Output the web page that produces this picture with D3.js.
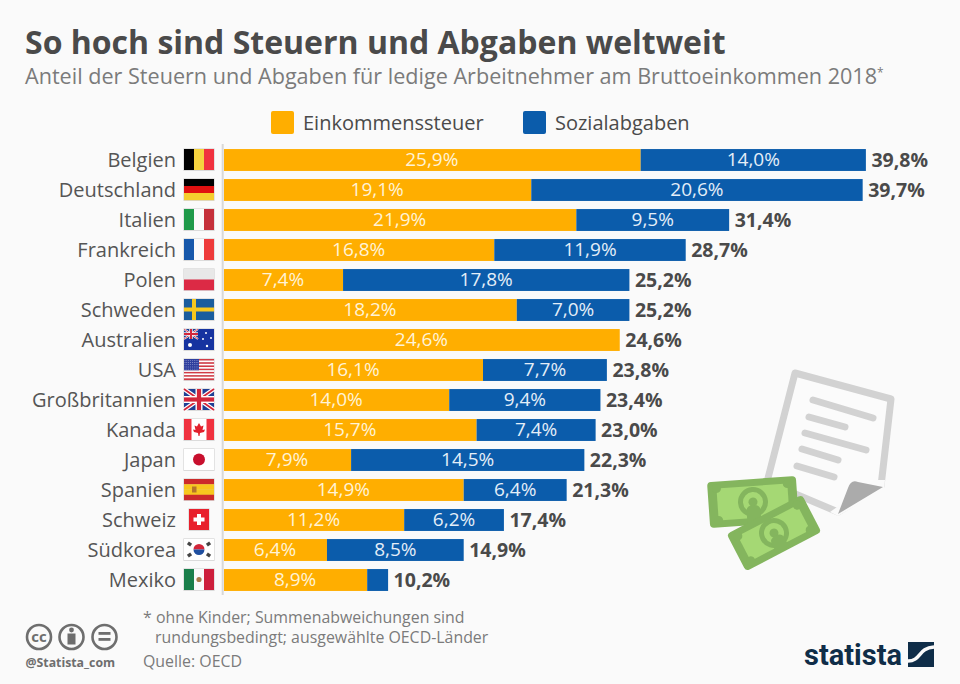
<!DOCTYPE html>
<html>
<head>
<meta charset="utf-8">
<script src="https://cdn.jsdelivr.net/npm/d3@7"></script>
<style>
html, body { margin: 0; padding: 0; background: #fafafa; }
svg { display: block; font-family: "Open Sans", sans-serif; }
</style>
</head>
<body>
<div id="chart"></div>
<script>
const countries = ["Belgien", "Deutschland", "Italien", "Frankreich", "Polen", "Schweden", "Australien", "USA", "Großbritannien", "Kanada", "Japan", "Spanien", "Schweiz", "Südkorea", "Mexiko"];
const incomeTax = [25.9, 19.1, 21.9, 16.8, 7.4, 18.2, 24.6, 16.1, 14.0, 15.7, 7.9, 14.9, 11.2, 6.4, 8.9];
const socialTax = [14.0, 20.6, 9.5, 11.9, 17.8, 7.0, 0, 7.7, 9.4, 7.4, 14.5, 6.4, 6.2, 8.5, 1.3];
const totals = [39.8, 39.7, 31.4, 28.7, 25.2, 25.2, 24.6, 23.8, 23.4, 23.0, 22.3, 21.3, 17.4, 14.9, 10.2];
const seriesNames = ["Einkommenssteuer", "Sozialabgaben"];

const text_color = "#4a4a4a";
const grey_color = "#7b7b7b";
const yellow = "#ffae00";
const blue = "#0b5cab";
const WIDTH = 960, HEIGHT = 684;

const fmt = v => v.toFixed(1).replace(".", ",") + "%";

const svg = d3.select("#chart").append("svg")
    .attr("width", WIDTH)
    .attr("height", HEIGHT);

svg.append("rect").attr("width", WIDTH).attr("height", HEIGHT).attr("fill", "#fafafa");

// header
svg.append("text").text("So hoch sind Steuern und Abgaben weltweit")
    .attr("x", 25).attr("y", 54)
    .attr("font-size", 32).attr("font-weight", 700).attr("fill", text_color);

const sub = svg.append("text")
    .attr("x", 25).attr("y", 84)
    .attr("font-size", 21.6).attr("fill", grey_color);
sub.append("tspan").text("Anteil der Steuern und Abgaben für ledige Arbeitnehmer am Bruttoeinkommen 2018");
sub.append("tspan").text("*").attr("font-size", 12).attr("dy", -7);

// legend
const legendX = [271, 523];
seriesNames.forEach((name, i) => {
    svg.append("rect").attr("x", legendX[i]).attr("y", 111).attr("width", 23).attr("height", 23)
        .attr("rx", 2).attr("fill", i === 0 ? yellow : blue);
    svg.append("text").text(name).attr("x", legendX[i] + 32).attr("y", 130)
        .attr("font-size", 20).attr("fill", text_color);
});

// scales
const x = d3.scaleLinear().domain([0, 40]).range([224, 867.5]);
const y = d3.scaleBand().domain(countries).range([145, 595]).paddingInner(0.27).paddingOuter(0.135);

svg.append("line").attr("x1", 222.7).attr("x2", 222.7).attr("y1", 144).attr("y2", 595)
    .attr("stroke", "#d8d8d8").attr("stroke-width", 2);

const rows = svg.selectAll("g.row").data(countries).join("g").attr("class", "row");

rows.append("rect")
    .attr("x", x(0))
    .attr("y", d => y(d))
    .attr("width", (d, i) => x(incomeTax[i]) - x(0))
    .attr("height", y.bandwidth())
    .attr("fill", yellow);

rows.append("rect")
    .attr("x", (d, i) => x(incomeTax[i]))
    .attr("y", d => y(d))
    .attr("width", (d, i) => x(incomeTax[i] + socialTax[i]) - x(incomeTax[i]))
    .attr("height", y.bandwidth())
    .attr("fill", blue);

const midY = d => y(d) + y.bandwidth() / 2;

rows.append("text")
    .text((d, i) => fmt(incomeTax[i]))
    .attr("x", (d, i) => (x(0) + x(incomeTax[i])) / 2 - 0.5)
    .attr("y", midY).attr("dy", "0.34em")
    .attr("text-anchor", "middle").attr("font-size", 19).attr("fill", "#fff3d6");

// Mexiko's social share is too narrow for a label
rows.filter((d, i) => socialTax[i] > 2).append("text")
    .text(d => fmt(socialTax[countries.indexOf(d)]))
    .attr("x", d => { const i = countries.indexOf(d); return (x(incomeTax[i]) + x(incomeTax[i] + socialTax[i])) / 2; })
    .attr("y", midY).attr("dy", "0.34em")
    .attr("text-anchor", "middle").attr("font-size", 19).attr("fill", "#e4eef8");

rows.append("text")
    .text((d, i) => fmt(totals[i]))
    .attr("x", (d, i) => x(incomeTax[i] + socialTax[i]) + 5.5)
    .attr("y", midY).attr("dy", "0.34em")
    .attr("font-size", 19.5).attr("font-weight", 700).attr("fill", text_color);

rows.append("text")
    .text(d => d)
    .attr("x", 176)
    .attr("y", midY).attr("dy", "0.33em")
    .attr("text-anchor", "end").attr("font-size", 20).attr("fill", "#555");

// flags, drawn in a 30x21 box
function r(g, x0, y0, w, h, c) { g.append("rect").attr("x", x0).attr("y", y0).attr("width", w).attr("height", h).attr("fill", c); }
function vbands(g, cs) { cs.forEach((c, i) => r(g, i * 10, 0, 10, 21, c)); }
function hbands(g, cs) { const h = 21 / cs.length; cs.forEach((c, i) => r(g, 0, i * h, 30, h + 0.2, c)); }
function unionJack(g, w, h) {
    r(g, 0, 0, w, h, "#1f3f94");
    const p = `M0,0L${w},${h}M${w},0L0,${h}`;
    g.append("path").attr("d", p).attr("stroke", "#fff").attr("stroke-width", h / 5);
    g.append("path").attr("d", p).attr("stroke", "#d3263a").attr("stroke-width", h / 12);
    r(g, w / 2 - h / 6, 0, h / 3, h, "#fff"); r(g, 0, h / 3, w, h / 3, "#fff");
    r(g, w / 2 - h / 10, 0, h / 5, h, "#d3263a"); r(g, 0, h * 0.4, w, h / 5, "#d3263a");
}
const flags = {
    Belgien: g => vbands(g, ["#000", "#f5d33f", "#f0323f"]),
    Deutschland: g => hbands(g, ["#000", "#e01010", "#f5cd2e"]),
    Italien: g => vbands(g, ["#1f9a4a", "#fafafa", "#c5303a"]),
    Frankreich: g => vbands(g, ["#1758ab", "#fafafa", "#ee3b3b"]),
    Polen: g => hbands(g, ["#e8e8e8", "#dc2a45"]),
    Schweden: g => { r(g, 0, 0, 30, 21, "#1a5d9e"); r(g, 8, 0, 4, 21, "#f7c81e"); r(g, 0, 8.5, 30, 4, "#f7c81e"); },
    Australien: g => {
        r(g, 0, 0, 30, 21, "#1633a0");
        unionJack(g, 14, 10);
        [[6, 16, 2], [22, 4, 1], [27, 9, 1], [19, 10, 1], [23, 17, 1.2]].forEach(s =>
            g.append("circle").attr("cx", s[0]).attr("cy", s[1]).attr("r", s[2]).attr("fill", "#fff"));
    },
    USA: g => {
        d3.range(13).forEach(i => r(g, 0, i * 21 / 13, 30, 21 / 13 + 0.1, i % 2 ? "#fff" : "#d33a45"));
        r(g, 0, 0, 15, 11.3, "#2f3f9e");
        d3.range(5).forEach(a => d3.range(8).forEach(b =>
            g.append("circle").attr("cx", 1 + b * 1.85).attr("cy", 1.3 + a * 2.2).attr("r", 0.4).attr("fill", "#dfe3f5")));
    },
    "Großbritannien": g => unionJack(g, 30, 21),
    Kanada: g => {
        r(g, 0, 0, 30, 21, "#fff"); r(g, 0, 0, 7.5, 21, "#f0323f"); r(g, 22.5, 0, 7.5, 21, "#f0323f");
        g.append("path").attr("d", "M15,4L17,7.5L19.5,6.5L18.5,11L21,10.5L20,13L16,14L15.5,17L14.5,17L14,14L10,13L9,10.5L11.5,11L10.5,6.5L13,7.5Z").attr("fill", "#e2202c");
    },
    Japan: g => { r(g, 0, 0, 30, 21, "#fff"); g.append("circle").attr("cx", 15).attr("cy", 10.5).attr("r", 6).attr("fill", "#c8102e"); },
    Spanien: g => {
        hbands(g, ["#cc2b2b", "#f7c81e", "#f7c81e", "#cc2b2b"]);
        r(g, 8, 7.5, 4.5, 6, "#b5762a");
    },
    Schweiz: g => {
        r(g, 5, 0, 20, 21, "#e8202c");
        r(g, 13, 5, 4, 11, "#fff"); r(g, 9.5, 8.5, 11, 4, "#fff");
    },
    "Südkorea": g => {
        r(g, 0, 0, 30, 21, "#fff");
        g.append("path").attr("d", "M9.5,10.5A5.5,5.5 0 0 1 20.5,10.5Z").attr("fill", "#d3263a");
        g.append("path").attr("d", "M9.5,10.5A5.5,5.5 0 0 0 20.5,10.5Z").attr("fill", "#1f4fa0");
        [[5.5, 5, 35], [24.5, 5, -35], [5.5, 16, -35], [24.5, 16, 35]].forEach(t =>
            g.append("rect").attr("x", -2).attr("y", -1.7).attr("width", 4).attr("height", 3.4).attr("fill", "#444")
                .attr("transform", `translate(${t[0]},${t[1]}) rotate(${t[2]})`));
    },
    Mexiko: g => {
        vbands(g, ["#1a7f4b", "#fafafa", "#cd1f3c"]);
        g.append("circle").attr("cx", 15).attr("cy", 10.5).attr("r", 2.6).attr("fill", "#a97b4a");
    }
};

countries.forEach(name => {
    const g = svg.append("g").attr("class", "flag")
        .attr("transform", `translate(184,${midY(name) - 11})`);
    const box = name === "Schweiz" ? [5, 20] : [0, 30];
    // thin shadow so white flag parts stand off the background
    g.append("rect").attr("x", box[0] - 0.6).attr("y", -0.6).attr("width", box[1] + 1.2).attr("height", 22.4)
        .attr("fill", "#d4d4d4");
    flags[name](g);
});

// document + banknotes illustration
const deco = svg.append("g");
deco.append("path")
    .attr("d", "M795,373L891,399L881,486L838,512L767,482Z")
    .attr("fill", "#fbfbfb").attr("stroke", "#d2d2d2").attr("stroke-width", 7).attr("stroke-linejoin", "round");
[[813, 400, 873, 418], [809, 417, 845, 427], [805, 433, 866, 450], [802, 449, 838, 460], [797, 466, 834, 477]].forEach(l =>
    deco.append("line").attr("x1", l[0]).attr("y1", l[1]).attr("x2", l[2]).attr("y2", l[3])
        .attr("stroke", "#d2d2d2").attr("stroke-width", 7).attr("stroke-linecap", "round"));
deco.append("path").attr("d", "M885,480L884,490L838,516L830,512L875,480Z").attr("fill", "#fafafa");
deco.append("path").attr("d", "M838,514L848,488Q851,479 858,482L883,487Z").attr("fill", "#ababab");

function banknote(tx, ty, rot, w, h) {
    const n = deco.append("g").attr("transform", `translate(${tx},${ty}) rotate(${rot})`);
    n.append("rect").attr("x", -w / 2).attr("y", -h / 2).attr("width", w).attr("height", h).attr("rx", 4).attr("fill", "#84b55e");
    n.append("rect").attr("x", -w / 2 + 9).attr("y", -h / 2 + 7).attr("width", w - 18).attr("height", h - 14).attr("fill", "#a5d874");
    [[-1, -1], [1, -1], [-1, 1], [1, 1]].forEach(c =>
        n.append("circle").attr("cx", c[0] * (w / 2 - 9)).attr("cy", c[1] * (h / 2 - 7)).attr("r", 4.5).attr("fill", "#84b55e"));
    n.append("circle").attr("r", 12.5).attr("fill", "#a5d874").attr("stroke", "#84b55e").attr("stroke-width", 5);
    n.append("circle").attr("cy", 0).attr("r", 4.5).attr("fill", "#84b55e");
    n.append("path").attr("d", `M-7,${h / 2 - 2}L-7,9Q-7,3 0,3Q7,3 7,9L7,${h / 2 - 2}Z`).attr("fill", "#84b55e");
}
banknote(753, 502, -4, 89, 46);
banknote(774, 533, -27.5, 85, 42);

// footer
const note = svg.append("g").attr("font-size", 15.9).attr("fill", grey_color);
note.append("text").text("* ohne Kinder; Summenabweichungen sind").attr("x", 143).attr("y", 623);
note.append("text").text("rundungsbedingt; ausgewählte OECD-Länder").attr("x", 155).attr("y", 643);
note.append("text").text("Quelle: OECD").attr("x", 143).attr("y", 667);

const cc = svg.append("g").attr("fill", "none").attr("stroke", "#6e6e6e").attr("stroke-width", 2.6);
[39, 71.5, 104.5].forEach(cx => cc.append("circle").attr("cx", cx).attr("cy", 637).attr("r", 12));
svg.append("text").text("cc").attr("x", 39).attr("y", 642).attr("text-anchor", "middle")
    .attr("font-size", 15).attr("font-weight", 700).attr("fill", "#6e6e6e");
svg.append("circle").attr("cx", 71.5).attr("cy", 630).attr("r", 2.4).attr("fill", "#6e6e6e");
svg.append("rect").attr("x", 67.5).attr("y", 633.5).attr("width", 8).attr("height", 11).attr("fill", "#6e6e6e");
svg.append("rect").attr("x", 98.5).attr("y", 632).attr("width", 12).attr("height", 2.8).attr("fill", "#6e6e6e");
svg.append("rect").attr("x", 98.5).attr("y", 638).attr("width", 12).attr("height", 2.8).attr("fill", "#6e6e6e");
svg.append("text").text("@Statista_com").attr("x", 25.5).attr("y", 667)
    .attr("font-size", 12.3).attr("font-weight", 700).attr("fill", "#6e6e6e");

// statista logo
svg.append("text").text("statista").attr("x", 804).attr("y", 665)
    .attr("font-family", "Roboto, sans-serif").attr("font-size", 30).attr("font-weight", 700).attr("fill", "#0f2d48")
    .attr("textLength", 98).attr("lengthAdjust", "spacingAndGlyphs");
svg.append("rect").attr("x", 908).attr("y", 642).attr("width", 26).attr("height", 25).attr("fill", "#0f2d48");
svg.append("path").attr("d", "M908,661C921,661 918,648 934,647").attr("fill", "none").attr("stroke", "#fafafa").attr("stroke-width", 3.5);
</script>
</body>
</html>
